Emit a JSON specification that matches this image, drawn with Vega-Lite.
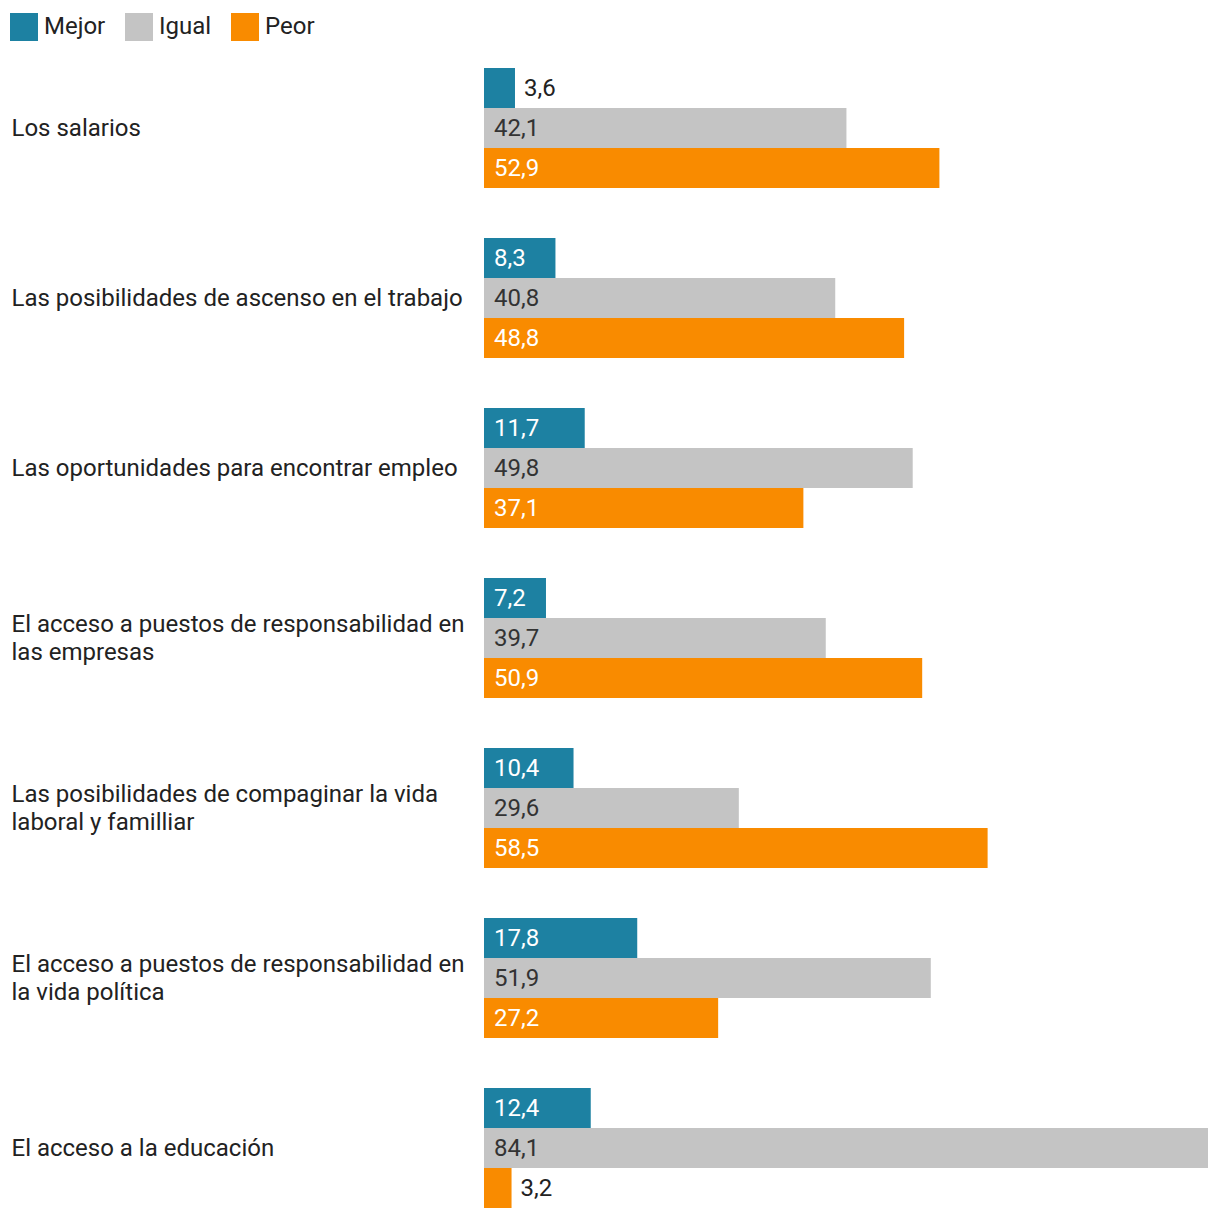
{
  "$schema": "https://vega.github.io/schema/vega-lite/v6.json",
  "width": 724,
  "height": 1140,
  "autosize": {"type": "none"},
  "padding": {"left": 484, "top": 68, "right": 12, "bottom": 12},
  "background": "white",
  "config": {
    "view": {"stroke": null},
    "font": "Roboto",
    "locale": {"number": {"decimal": ",", "thousands": ".", "grouping": [3], "currency": ["", " €"]}}
  },
  "data": {
    "values": [
      {"cat": "Los salarios", "serie": "Mejor", "value": 3.6},
      {"cat": "Los salarios", "serie": "Igual", "value": 42.1},
      {"cat": "Los salarios", "serie": "Peor", "value": 52.9},
      {"cat": "Las posibilidades de ascenso en el trabajo", "serie": "Mejor", "value": 8.3},
      {"cat": "Las posibilidades de ascenso en el trabajo", "serie": "Igual", "value": 40.8},
      {"cat": "Las posibilidades de ascenso en el trabajo", "serie": "Peor", "value": 48.8},
      {"cat": "Las oportunidades para encontrar empleo", "serie": "Mejor", "value": 11.7},
      {"cat": "Las oportunidades para encontrar empleo", "serie": "Igual", "value": 49.8},
      {"cat": "Las oportunidades para encontrar empleo", "serie": "Peor", "value": 37.1},
      {"cat": "El acceso a puestos de responsabilidad en las empresas", "serie": "Mejor", "value": 7.2},
      {"cat": "El acceso a puestos de responsabilidad en las empresas", "serie": "Igual", "value": 39.7},
      {"cat": "El acceso a puestos de responsabilidad en las empresas", "serie": "Peor", "value": 50.9},
      {"cat": "Las posibilidades de compaginar la vida laboral y familliar", "serie": "Mejor", "value": 10.4},
      {"cat": "Las posibilidades de compaginar la vida laboral y familliar", "serie": "Igual", "value": 29.6},
      {"cat": "Las posibilidades de compaginar la vida laboral y familliar", "serie": "Peor", "value": 58.5},
      {"cat": "El acceso a puestos de responsabilidad en la vida política", "serie": "Mejor", "value": 17.8},
      {"cat": "El acceso a puestos de responsabilidad en la vida política", "serie": "Igual", "value": 51.9},
      {"cat": "El acceso a puestos de responsabilidad en la vida política", "serie": "Peor", "value": 27.2},
      {"cat": "El acceso a la educación", "serie": "Mejor", "value": 12.4},
      {"cat": "El acceso a la educación", "serie": "Igual", "value": 84.1},
      {"cat": "El acceso a la educación", "serie": "Peor", "value": 3.2}
    ]
  },
  "encoding": {
    "y": {
      "field": "cat",
      "type": "nominal",
      "sort": null,
      "title": null,
      "scale": {"paddingInner": 0.294118, "paddingOuter": 0},
      "axis": {
        "domain": false,
        "ticks": false,
        "labelAlign": "left",
        "labelBaseline": "middle",
        "labelPadding": 473,
        "labelFontSize": 24,
        "labelFont": "Roboto",
        "labelColor": "#222222",
        "labelLineHeight": 28,
        "labelLimit": 0,
        "labelOffset": {"condition": {"test": "length(datum.value) > 45", "value": -13}, "value": 1},
        "labelExpr": "datum.label == 'El acceso a puestos de responsabilidad en las empresas' ? ['El acceso a puestos de responsabilidad en', 'las empresas'] : datum.label == 'Las posibilidades de compaginar la vida laboral y familliar' ? ['Las posibilidades de compaginar la vida', 'laboral y familliar'] : datum.label == 'El acceso a puestos de responsabilidad en la vida política' ? ['El acceso a puestos de responsabilidad en', 'la vida política'] : datum.label"
      }
    },
    "yOffset": {
      "field": "serie",
      "type": "nominal",
      "sort": ["Mejor", "Igual", "Peor"],
      "scale": {"paddingInner": 0, "paddingOuter": 0}
    }
  },
  "layer": [
    {
      "mark": {"type": "bar"},
      "encoding": {
        "x": {"field": "value", "type": "quantitative", "scale": {"domain": [0, 84.1], "nice": false}, "axis": null},
        "color": {
          "field": "serie",
          "type": "nominal",
          "sort": ["Mejor", "Igual", "Peor"],
          "scale": {"domain": ["Mejor", "Igual", "Peor"], "range": ["#1d81a2", "#c4c4c4", "#f98b00"]},
          "legend": {
            "title": null,
            "orient": "none",
            "legendX": -474,
            "legendY": -55,
            "direction": "horizontal",
            "symbolType": "square",
            "symbolSize": 784,
            "symbolStrokeWidth": 0,
            "symbolOpacity": 1,
            "labelFontSize": 24,
            "labelFont": "Roboto",
            "labelColor": "#222222",
            "labelOffset": 6,
            "columnPadding": 19,
            "padding": 0
          }
        }
      }
    },
    {
      "transform": [{"filter": "datum.value >= 5"}],
      "mark": {"type": "text", "align": "left", "baseline": "middle", "dx": 10, "dy": 1, "fontSize": 24, "font": "Roboto"},
      "encoding": {
        "x": {"datum": 0, "type": "quantitative"},
        "text": {"field": "value", "type": "quantitative", "format": ".1f"},
        "color": {"condition": {"test": "datum.serie === 'Igual'", "value": "#333333"}, "value": "#ffffff"}
      }
    },
    {
      "transform": [{"filter": "datum.value < 5"}],
      "mark": {"type": "text", "align": "left", "baseline": "middle", "dx": 9, "dy": 1, "fontSize": 24, "font": "Roboto"},
      "encoding": {
        "x": {"field": "value", "type": "quantitative"},
        "text": {"field": "value", "type": "quantitative", "format": ".1f"},
        "color": {"value": "#222222"}
      }
    }
  ]
}
